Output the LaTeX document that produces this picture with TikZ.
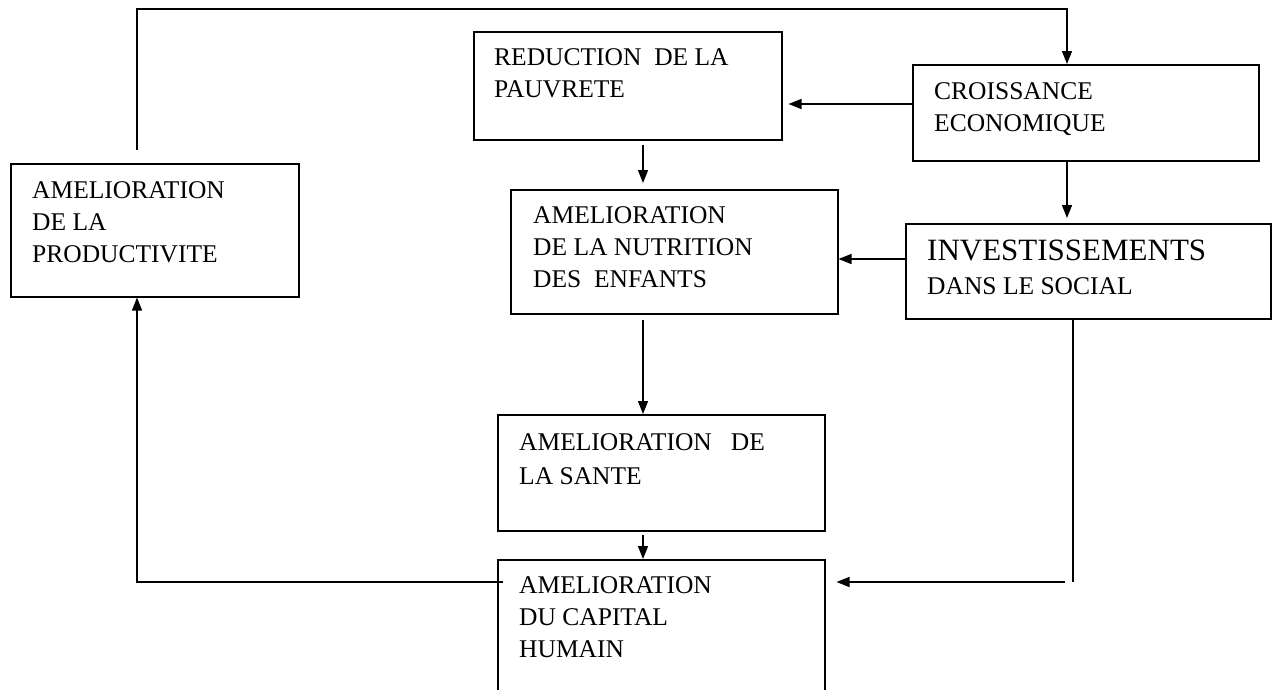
\documentclass[tikz,border=0pt]{standalone}
\usepackage{fontspec}
\setmainfont{Liberation Serif}
\usepackage{tikz}
\usetikzlibrary{arrows.meta,positioning}

\begin{document}
\begin{tikzpicture}[
        x=1pt, y=-1pt,
        box/.style={rectangle, draw=black, line width=1.5pt, fill=white, anchor=north west, inner sep=0pt},
        txt/.style={anchor=north west, align=left, inner sep=0pt, font=\rmfamily\fontsize{25.5}{32}\selectfont},
        link/.style={line width=1.5pt},
        arrow/.style={line width=1.5pt, -{Triangle[length=13pt,width=10pt]}}
    ]
        \useasboundingbox (0,0) rectangle (1276,689);
        \clip (0,0) rectangle (1276,689);

        % Boxes
        \node[box, minimum width=308, minimum height=108] (pauv) at (473,31) {};
        \node[box, minimum width=346, minimum height=96] (croiss) at (912,64) {};
        \node[box, minimum width=288, minimum height=133] (prod) at (10,163) {};
        \node[box, minimum width=327, minimum height=124] (nutri) at (510,189) {};
        \node[box, minimum width=365, minimum height=95] (invest) at (905,223) {};
        \node[box, minimum width=327, minimum height=116] (sante) at (497,414) {};
        \node[box, minimum width=327, minimum height=150] (capital) at (497,559) {};

        % Texts
        \node[txt] (pauvT) at (494,48) {REDUCTION\ \ DE LA\\PAUVRETE};
        \node[txt] (croissT) at (934,82) {CROISSANCE\\ECONOMIQUE};
        \node[txt] (prodT) at (32,181) {AMELIORATION\\DE LA\\PRODUCTIVITE};
        \node[txt] (nutriT) at (533,206) {AMELIORATION\\DE LA NUTRITION\\DES\ \ ENFANTS};
        \node[txt, font=\rmfamily\fontsize{25.5}{34}\selectfont] (investT) at (927,240)
            {{\fontsize{31}{34}\selectfont INVESTISSEMENTS}\\DANS LE SOCIAL};
        \node[txt, font=\rmfamily\fontsize{25.5}{34}\selectfont] (santeT) at (519,433) {AMELIORATION\ \ \ DE\\LA SANTE};
        \node[txt] (capitalT) at (519,576) {AMELIORATION\\DU CAPITAL\\HUMAIN};

        % Turning points
        \coordinate (topL) at (137,9);
        \coordinate (topR) at (1067,9);
        \coordinate (botL) at (137,582);
        \coordinate (botR) at (1073,582);
        \coordinate (mid) at (643,0);
        \coordinate (rowA) at (0,104);
        \coordinate (rowB) at (0,259);

        % Arrows
        \draw[arrow] ([yshift=13]prod.north -| topL) -- (topL) -- (topR) -- (topR |- croiss.north);
        \draw[arrow, shorten >=6pt] (croiss.west |- rowA) -- (pauv.east |- rowA);
        \draw[arrow, shorten <=4pt, shorten >=6pt] (pauv.south -| mid) -- (nutri.north -| mid);
        \draw[arrow, shorten >=5pt] (topR |- croiss.south) -- (topR |- invest.north);
        \draw[arrow] (invest.west |- rowB) -- (nutri.east |- rowB);
        \draw[arrow, shorten <=5pt] (nutri.south -| mid) -- (sante.north -| mid);
        \draw[arrow, shorten <=3pt] (sante.south -| mid) -- (capital.north -| mid);
        \draw[link] (botR |- invest.south) -- (botR);
        \draw[arrow] ([xshift=-8]botR) -- ([xshift=11]capital.east |- botR);
        \draw[arrow] ([xshift=6]capital.west |- botL) -- (botL) -- (botL |- prod.south);
    \end{tikzpicture}
\end{document}
